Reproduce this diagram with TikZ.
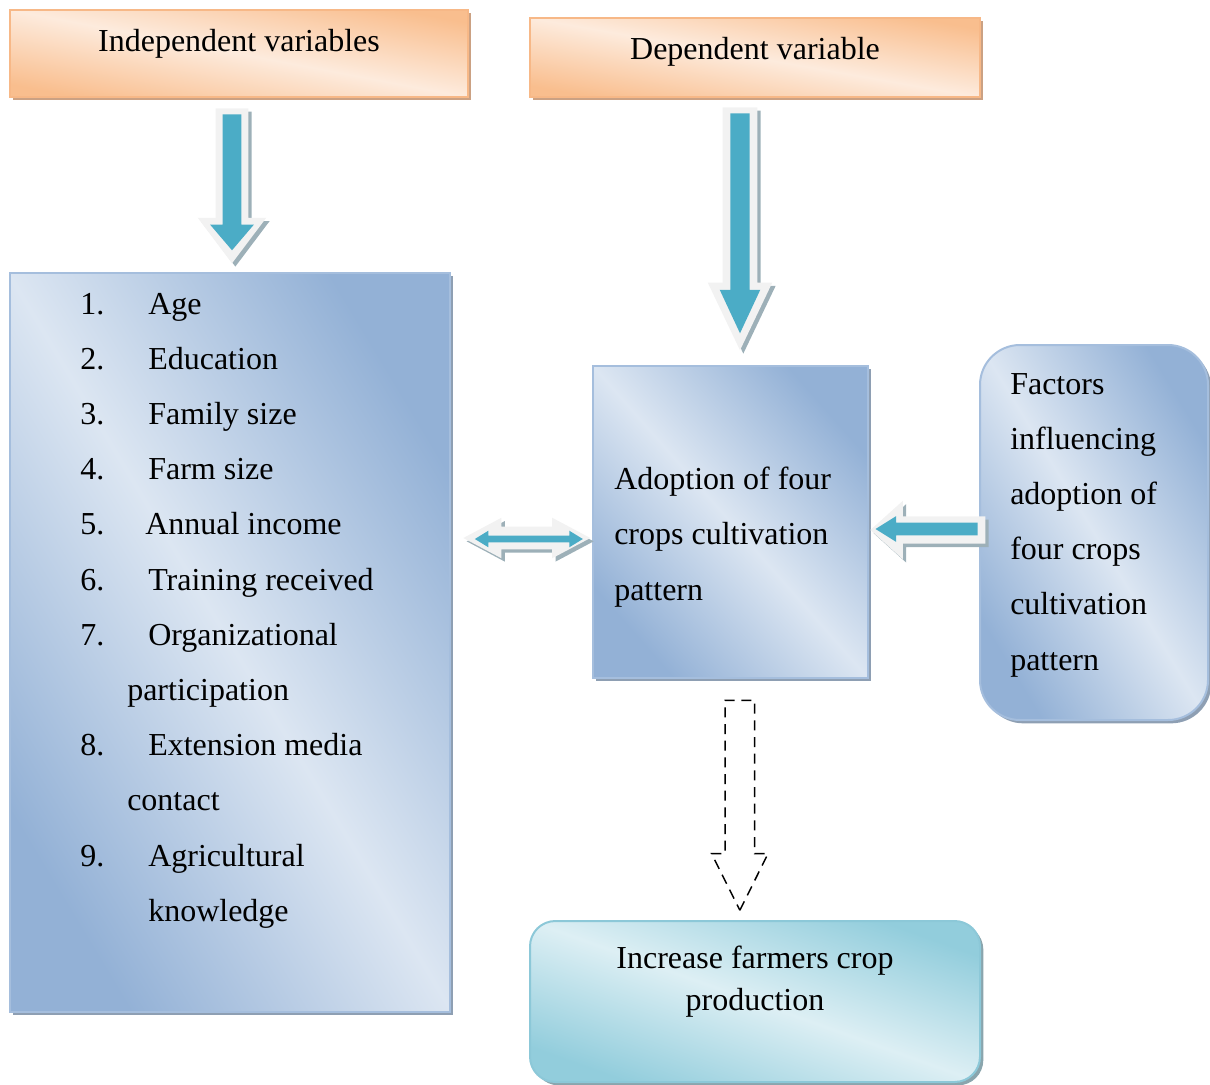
\documentclass[tikz,border=0pt]{standalone}
\usepackage{fontspec}
\setmainfont{Liberation Serif}
\usepackage{tikz}
\usetikzlibrary{shapes.arrows,shadows,calc,positioning}

\definecolor{orangedark}{HTML}{F9BE8E}
\definecolor{orangelight}{HTML}{FDEBDD}
\definecolor{orangeedge}{HTML}{F7B887}
\definecolor{orangeshade}{HTML}{CBA183}
\definecolor{bluedark}{HTML}{93B1D6}
\definecolor{bluelight}{HTML}{DCE6F2}
\definecolor{blueedge}{HTML}{A5BEDD}
\definecolor{blueshade}{HTML}{8E9FB3}
\definecolor{tealdark}{HTML}{92CDDC}
\definecolor{teallight}{HTML}{DDEFF4}
\definecolor{tealedge}{HTML}{8CC8D8}
\definecolor{tealshade}{HTML}{8AA5AD}
\definecolor{arrowblue}{HTML}{4BACC6}
\definecolor{arrowwhite}{HTML}{F2F2F2}
\definecolor{arrowshade}{HTML}{9DB0B8}

\begin{document}
\begin{tikzpicture}[x=0.75pt,y=-0.75pt,
  every node/.style={font=\fontsize{24}{41.4}\selectfont, inner sep=0pt},
  orangebox/.style={draw=orangeedge, line width=1.5pt, top color=orangedark, bottom color=orangedark, middle color=orangelight,
    drop shadow={shadow xshift=2.5pt, shadow yshift=-2.5pt, fill=orangeshade, opacity=1}},
  bluebox/.style={draw=blueedge, line width=1.5pt, top color=bluedark, bottom color=bluedark, middle color=bluelight,
    drop shadow={shadow xshift=2.5pt, shadow yshift=-2.5pt, fill=blueshade, opacity=1}},
  tealbox/.style={draw=tealedge, line width=1.5pt, top color=tealdark, bottom color=tealdark, middle color=teallight,
    drop shadow={shadow xshift=2.5pt, shadow yshift=-2.5pt, fill=tealshade, opacity=1}},
  outerarrow/.style={single arrow, fill=arrowwhite,
    drop shadow={shadow xshift=2.5pt, shadow yshift=-2.5pt, fill=arrowshade, opacity=1}},
  innerarrow/.style={single arrow, fill=arrowblue},
  dasharrow/.style={single arrow, draw=black, line width=1.1pt, dash pattern=on 7.5pt off 5pt}
]
\useasboundingbox (0,0) rectangle (1210,1085);

% boxes
\node[orangebox, shading angle=-10.8, minimum width=343.5pt, minimum height=65.25pt] (indep) at (239,53.5) {};
\node[orangebox, shading angle=-10, minimum width=337.5pt, minimum height=59.25pt] (depend) at (755,57.5) {};
\node[bluebox, shading angle=-59, minimum width=330pt, minimum height=554.25pt] (vars) at (230,642.5) {};
\node[bluebox, shading angle=-48.6, minimum width=206.25pt, minimum height=234pt] (adopt) at (730.5,522) {};
\node[bluebox, shading angle=-58.7, rounded corners=30pt, minimum width=171pt, minimum height=281.25pt] (factors) at (1094,532.5) {};
\node[tealbox, shading angle=-19.7, rounded corners=19pt, minimum width=337.5pt, minimum height=120.75pt] (result) at (755,1001.5) {};

% texts
\node (indeptext) at ([yshift=7.6pt]indep.center) {Independent variables};
\node (deptext) at ([yshift=4pt]depend.center) {Dependent variable};
\node[align=left, anchor=west] (adopttext) at (614,537) {Adoption of four\\crops cultivation\\pattern};
\node[align=left, anchor=west] (factorstext) at (1010,525) {Factors\\influencing\\adoption of\\four crops\\cultivation\\pattern};
\node[align=center, font=\fontsize{24}{31.5}\selectfont] (resulttext) at (755,982) {Increase farmers crop\\production};

\foreach \num/\xt/\item [count=\i] in {1./148/Age, 2./148/Education, 3./148/Family size, 4./148/Farm size,
    5./145/Annual income, 6./148/Training received, 7./148/Organizational, {}/127/participation,
    8./148/Extension media, {}/127/contact, 9./148/Agricultural, {}/148/knowledge} {
  \node[anchor=base west] (num\i) at (80,{314+55.2*(\i-1)}) {\num};
  \node[anchor=base west] (item\i) at (\xt,{314+55.2*(\i-1)}) {\item};
}

% block arrows
\node[outerarrow, anchor=tail, shape border rotate=270, minimum height=116.25pt, inner xsep=12pt, single arrow head extend=13.5pt, single arrow tip angle=74]
  (a1) at ([xshift=-5.25pt, yshift=-7.5pt]indep.south) {};
\node[innerarrow, anchor=tail, shape border rotate=270, minimum height=102pt, inner xsep=6.75pt, single arrow head extend=9.4pt, single arrow tip angle=81]
  (a1in) at ([yshift=-4.5pt]a1.tail) {};

\node[outerarrow, anchor=tail, shape border rotate=270, minimum height=182.25pt, inner xsep=12.75pt, single arrow head extend=11.25pt, single arrow tip angle=51]
  (a2) at ([xshift=-11.25pt, yshift=-6.75pt]depend.south) {};
\node[innerarrow, anchor=tail, shape border rotate=270, minimum height=165pt, inner xsep=7.1pt, single arrow head extend=7.9pt, single arrow tip angle=50]
  (a2in) at ([yshift=-4.5pt]a2.tail) {};

\node[double arrow, fill=arrowwhite, drop shadow={shadow xshift=2.5pt, shadow yshift=-2.5pt, fill=arrowshade, opacity=1},
  minimum height=95.25pt, inner ysep=8.25pt, double arrow head extend=6.75pt, double arrow tip angle=56]
  (a3) at ([xshift=4pt, yshift=-12pt]$(vars.east |- adopt.west)!.5!(adopt.west)$) {};
\node[double arrow, fill=arrowblue, minimum height=81pt, inner ysep=2.25pt, double arrow head extend=3.75pt, double arrow tip angle=63]
  (a3in) at ([xshift=1.5pt, yshift=-0.75pt]a3.center) {};

\node[outerarrow, anchor=tip, shape border rotate=180, minimum height=86.25pt, inner ysep=10.1pt, single arrow head extend=11.6pt, single arrow tip angle=84]
  (a4) at ([xshift=0.75pt, yshift=-6pt]adopt.east) {};
\node[innerarrow, anchor=tip, shape border rotate=180, minimum height=76.5pt, inner ysep=4.5pt, single arrow head extend=4.9pt, single arrow tip angle=64]
  (a4in) at ([xshift=3.75pt, yshift=0.75pt]a4.tip) {};

\node[dasharrow, anchor=tail, shape border rotate=270, minimum height=157.5pt, inner xsep=10.5pt, single arrow head extend=10.1pt, single arrow tip angle=53]
  (a5) at ([xshift=7pt, yshift=-15.4pt]adopt.south) {};
\end{tikzpicture}
\end{document}
